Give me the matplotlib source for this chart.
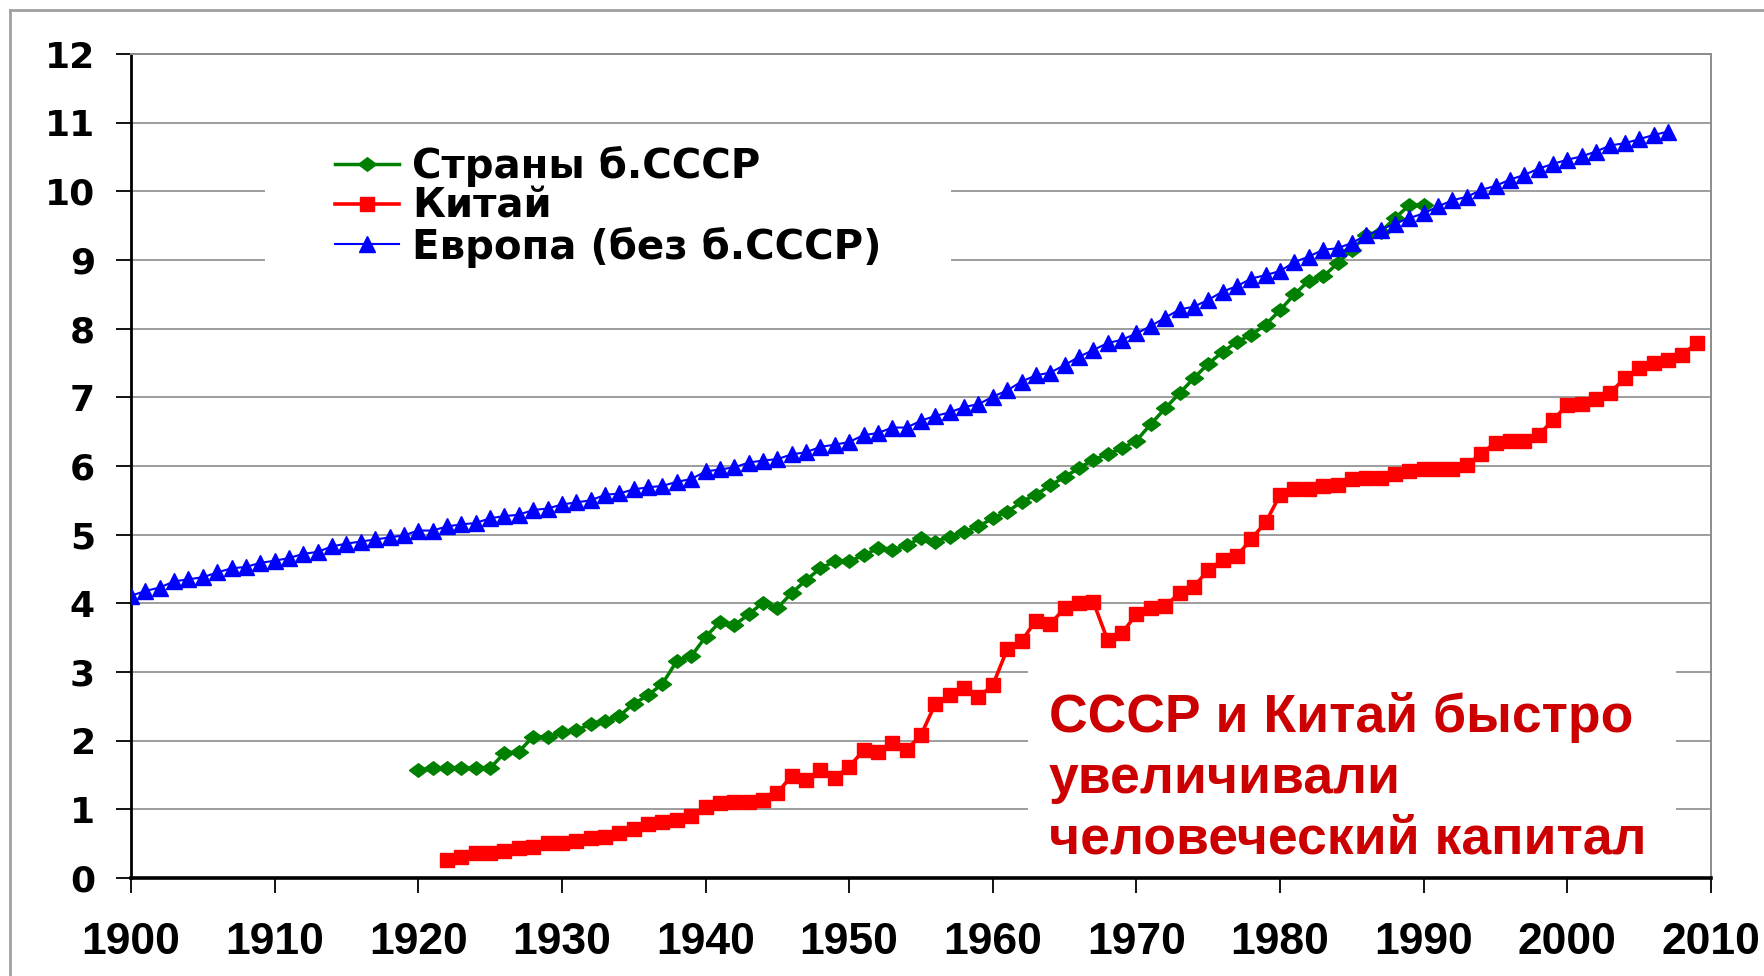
import matplotlib
matplotlib.use('Agg')
import matplotlib.pyplot as plt
from matplotlib.patches import Rectangle
from matplotlib.lines import Line2D

# average years of schooling
europe_years = list(range(1900, 2008))
europe = [4.11, 4.18, 4.23, 4.32, 4.35, 4.38, 4.45, 4.51, 4.53, 4.59,
          4.62, 4.66, 4.72, 4.75, 4.83, 4.87, 4.90, 4.93, 4.96, 4.99,
          5.06, 5.06, 5.12, 5.15, 5.17, 5.24, 5.27, 5.29, 5.36, 5.38,
          5.44, 5.47, 5.50, 5.58, 5.60, 5.66, 5.69, 5.71, 5.77, 5.81,
          5.92, 5.95, 5.98, 6.05, 6.08, 6.10, 6.17, 6.20, 6.28, 6.31,
          6.35, 6.45, 6.48, 6.56, 6.56, 6.66, 6.73, 6.78, 6.86, 6.90,
          7.01, 7.10, 7.23, 7.32, 7.36, 7.47, 7.59, 7.69, 7.79, 7.84,
          7.93, 8.04, 8.16, 8.28, 8.32, 8.42, 8.54, 8.62, 8.73, 8.78,
          8.84, 8.97, 9.05, 9.15, 9.17, 9.25, 9.36, 9.44, 9.53, 9.61,
          9.68, 9.78, 9.87, 9.92, 10.02, 10.08, 10.17, 10.24, 10.33, 10.40,
          10.46, 10.51, 10.58, 10.67, 10.70, 10.76, 10.82, 10.87]

ussr_years = list(range(1920, 1991))
ussr = [1.57, 1.60, 1.60, 1.60, 1.60, 1.60, 1.82, 1.84, 2.06, 2.05,
        2.12, 2.15, 2.24, 2.29, 2.36, 2.54, 2.66, 2.83, 3.16, 3.23,
        3.51, 3.73, 3.68, 3.84, 4.01, 3.93, 4.15, 4.34, 4.51, 4.61,
        4.61, 4.70, 4.80, 4.77, 4.85, 4.95, 4.90, 4.97, 5.04, 5.12,
        5.24, 5.33, 5.48, 5.58, 5.72, 5.84, 5.97, 6.09, 6.17, 6.26,
        6.37, 6.61, 6.84, 7.06, 7.28, 7.49, 7.66, 7.81, 7.91, 8.06,
        8.27, 8.50, 8.70, 8.76, 8.95, 9.15, 9.36, 9.41, 9.61, 9.80, 9.80]

china_years = list(range(1922, 2010))
china = [0.26, 0.30, 0.36, 0.36, 0.40, 0.43, 0.45, 0.51,
         0.51, 0.54, 0.58, 0.60, 0.66, 0.72, 0.78, 0.81, 0.84, 0.91,
         1.03, 1.09, 1.11, 1.11, 1.14, 1.24, 1.49, 1.43, 1.57, 1.46,
         1.62, 1.86, 1.84, 1.96, 1.87, 2.08, 2.54, 2.66, 2.76, 2.63,
         2.81, 3.33, 3.45, 3.75, 3.70, 3.93, 4.00, 4.02, 3.46, 3.57,
         3.84, 3.93, 3.96, 4.15, 4.24, 4.49, 4.63, 4.69, 4.94, 5.18,
         5.58, 5.67, 5.67, 5.71, 5.73, 5.81, 5.83, 5.83, 5.89, 5.92,
         5.95, 5.95, 5.95, 6.01, 6.18, 6.34, 6.37, 6.37, 6.45, 6.67,
         6.89, 6.91, 6.97, 7.07, 7.28, 7.43, 7.50, 7.55, 7.62, 7.79]

labels = ['Страны б.СССР', 'Китай', 'Европа (без б.СССР)']
note = 'СССР и Китай быстро\nувеличивали\nчеловеческий капитал'
x_ticks = list(range(1900, 2011, 10))
y_ticks = list(range(0, 13))

W, H = 1765, 976
fig = plt.figure(figsize=(W / 100, H / 100), dpi=100)
ax = fig.add_axes([131 / W, 1 - 878 / H, (1711 - 131) / W, (878 - 54) / H])

diamond = [(-1, 0), (0, 0.75), (1, 0), (0, -0.75), (-1, 0)]
ax.plot(ussr_years, ussr, color='#008000', lw=2.5, marker=diamond, ms=13,
        mec='#008000', mfc='#008000', label=labels[0], zorder=3)
ax.plot(china_years, china, color='#ff0000', lw=2.6, marker='s', ms=9.5,
        mec='#ff0000', mfc='#ff0000', label=labels[1], zorder=4)
ax.plot(europe_years, europe, color='#0000ff', lw=1.5, marker='^', ms=11,
        mec='#0000ff', mfc='#0000ff', label=labels[2], zorder=5)

ax.set_xlim(1900, 2010)
ax.set_ylim(0, 12)
ax.set_xticks(x_ticks)
ax.set_yticks(y_ticks)
ax.set_axisbelow(True)
ax.grid(axis='y', color='#8c8c8c', lw=1.2)

for s in ['top', 'right']:
    ax.spines[s].set_color('#8c8c8c')
    ax.spines[s].set_linewidth(1.4)
ax.spines['left'].set_linewidth(2.0)
ax.spines['bottom'].set_linewidth(2.6)
ax.tick_params(axis='both', direction='out', length=11, width=1.3, color='black')
ax.tick_params(axis='x', pad=21)
ax.tick_params(axis='y', pad=15)
for t in ax.get_xticklabels():
    t.set_fontfamily('Liberation Sans')
    t.set_fontweight('bold')
    t.set_fontsize(32)
for t in ax.get_yticklabels():
    t.set_fontfamily('DejaVu Sans')
    t.set_fontweight('bold')
    t.set_fontsize(26)

# white boxes behind legend and note (they hide the gridlines)
ax.add_patch(Rectangle((0.085, 0.7075), 0.434, 0.2, transform=ax.transAxes,
                       facecolor='white', edgecolor='none', zorder=1))
ax.add_patch(Rectangle((0.568, 0.01), 0.41, 0.297, transform=ax.transAxes,
                       facecolor='white', edgecolor='none', zorder=1))

leg = ax.legend(loc='upper left', bbox_to_anchor=(0.129, 0.888), frameon=False,
                borderpad=0, borderaxespad=0, handlelength=1.59, handletextpad=0.33,
                labelspacing=-0.01, numpoints=1,
                prop={'family': 'DejaVu Sans', 'weight': 'bold', 'size': 29})
leg.set_zorder(6)

# va='baseline' puts the last line's baseline at y
ax.text(0.581, 0.030, note, transform=ax.transAxes, color='#cc0000',
        fontsize=38.5, fontweight='bold', family='Liberation Sans',
        va='baseline', ha='left', linespacing=1.27, zorder=7)

# slide frame
fig.add_artist(Line2D([10 / W, 10 / W], [0, 1 - 10 / H], color='#a0a0a0', lw=2))
fig.add_artist(Line2D([10 / W, 1], [1 - 10 / H, 1 - 10 / H], color='#a0a0a0', lw=2))

fig.savefig('out.png', dpi=100)
